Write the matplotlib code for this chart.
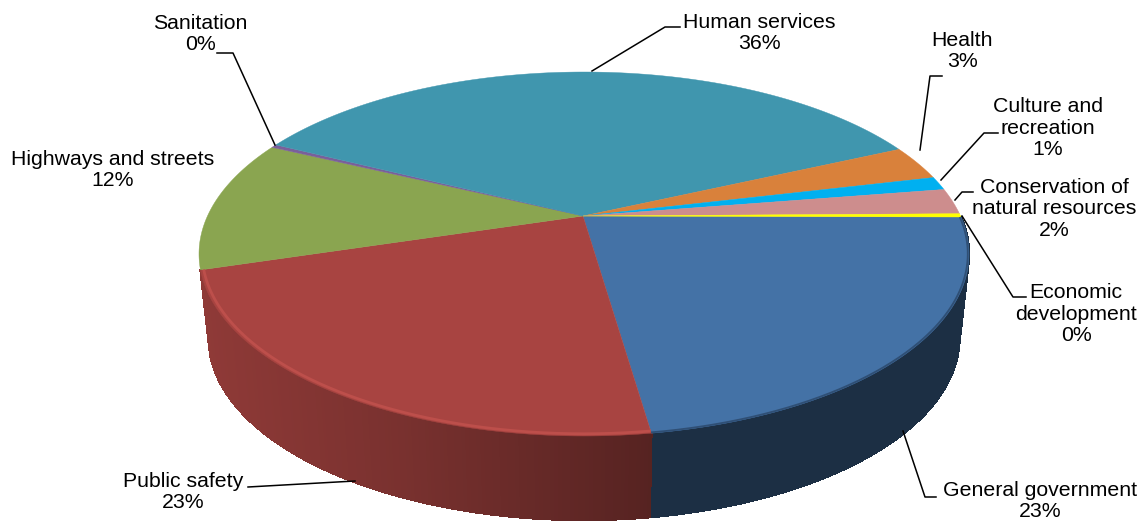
import numpy as np
import matplotlib
matplotlib.use('Agg')
import matplotlib.pyplot as plt
from matplotlib.collections import PolyCollection

plt.rcParams['font.family'] = ['Liberation Sans', 'DejaVu Sans']

categories = ['General government', 'Public safety', 'Highways and streets', 'Sanitation',
              'Human services', 'Health', 'Culture and\nrecreation',
              'Conservation of\nnatural resources', 'Economic\ndevelopment']
values = [22.6, 22.6, 11.8, 0.3, 35.8, 3.1, 1.2, 2.3, 0.3]
colors = ['#4472a6', '#a84441', '#8aa550', '#7a5f9a', '#4096ae',
          '#d9813b', '#00b0f0', '#cd8d8d', '#ffff00']

# outline of the top face in pixels, and where the slices meet
cx, cy, rx, ry = 584.0, 254.0, 385.0, 182.0
hub_pixel = (583.0, 216.0)
start_pixel = (963.0, 217.0)

frac = np.cumsum([0] + values) / np.sum(values)
angles = 2 * np.pi * frac


def rot(a):
    return np.array([[np.cos(a), -np.sin(a), 0], [np.sin(a), np.cos(a), 0], [0, 0, 1]])


def perspective_matrix():
    # unit circle -> ellipse, with the circle centre going to the hub
    M = np.array([[rx, 0, cx], [0, ry, cy], [0, 0, 1]])
    p = np.array([(hub_pixel[0] - cx) / rx, (hub_pixel[1] - cy) / ry])
    s = np.hypot(*p)
    phi = np.arctan2(p[1], p[0])
    k = np.sqrt(1 - s ** 2)
    T = np.array([[1, 0, s], [0, k, 0], [s, 0, 1]])
    # turn the circle so that angle 0 lands on the start point
    q = np.array([(start_pixel[0] - cx) / rx, (start_pixel[1] - cy) / ry, 1.0])
    q = rot(-phi) @ q
    alpha = np.arctan2(k * q[1], q[0] - s)
    return M @ rot(phi) @ T @ rot(alpha)


H = perspective_matrix()


def project(r, theta):
    p = H @ np.vstack([r * np.cos(theta), r * np.sin(theta), np.ones_like(theta)])
    return p[0] / p[2], p[1] / p[2]


def lower(x, y):
    return hub_pixel[0] + (x - hub_pixel[0]) * 0.975, y + 84


def wall_shade(i, x):
    if i == 0:
        return 0.41
    return np.interp(x, [200, 400, 655], [0.85, 0.72, 0.51])


fig = plt.figure(figsize=(11.48, 5.27), dpi=100, facecolor='w')
ax = fig.add_axes([0, 0, 1, 1])
ax.set_xlim(0, 1148)
ax.set_ylim(527, 0)
ax.axis('off')

# side wall, only the two front slices show one
quads = []
quad_colors = []
for i in [0, 1]:
    base = np.array(matplotlib.colors.to_rgb(colors[i]))
    n = int(abs(angles[i + 1] - angles[i]) * 120)
    th = np.linspace(angles[i], angles[i + 1], n + 1)
    x, y = project(np.ones_like(th), th)
    xb, yb = lower(x, y)
    for k in range(n):
        quads.append([(x[k], y[k]), (x[k + 1], y[k + 1]), (xb[k + 1], yb[k + 1]), (xb[k], yb[k])])
        quad_colors.append(base * wall_shade(i, (x[k] + x[k + 1]) / 2))
ax.add_collection(PolyCollection(quads, facecolors=quad_colors, edgecolors=quad_colors,
                                 linewidths=1.0, antialiaseds=False))

# top surface
for i, c in enumerate(colors):
    th = np.linspace(angles[i], angles[i + 1], 200)
    x, y = project(np.ones_like(th), th)
    hx, hy = project(np.zeros(1), np.zeros(1))
    ax.fill(np.r_[hx, x], np.r_[hy, y], facecolor=c, edgecolor=c, linewidth=0.3, zorder=3)

# bevel along the front edge
th = np.linspace(angles[1], angles[2], 200)
x, y = project(np.full_like(th, 0.992), th)
ax.plot(x, y, color='#bd4f4b', lw=2.0, zorder=4, solid_capstyle='butt')
th = np.linspace(angles[0], angles[1], 200)
x, y = project(np.full_like(th, 0.997), th)
ax.plot(x, y, color='#2f4f75', lw=1.3, zorder=4, solid_capstyle='butt')

# leader lines
leaders = [
    [(275, 145), (233, 53), (217, 53)],
    [(592, 71), (665, 27), (680, 27)],
    [(920, 150), (930, 76), (942, 76)],
    [(941, 180), (984, 133), (998, 133)],
    [(955, 200), (962, 192), (973, 192)],
    [(962, 216), (1013, 297), (1026, 297)],
    [(903, 431), (925, 497), (936, 497)],
    [(355, 481), (248, 487)],
]
for pts in leaders:
    ax.plot(*zip(*pts), color='k', lw=1.1, zorder=5)

label_pos = [(1040, 501), (183, 492), (113, 170), (200, 34), (759, 33),
             (962, 51), (1048, 128), (1054, 209), (1076, 314)]
for name, v, (lx, ly) in zip(categories, values, label_pos):
    ax.text(lx, ly, f'{name}\n{round(v)}%', ha='center', va='center', fontsize=15.3,
            linespacing=1.17, color='k', zorder=6)

fig.savefig('out.png', dpi=100)
